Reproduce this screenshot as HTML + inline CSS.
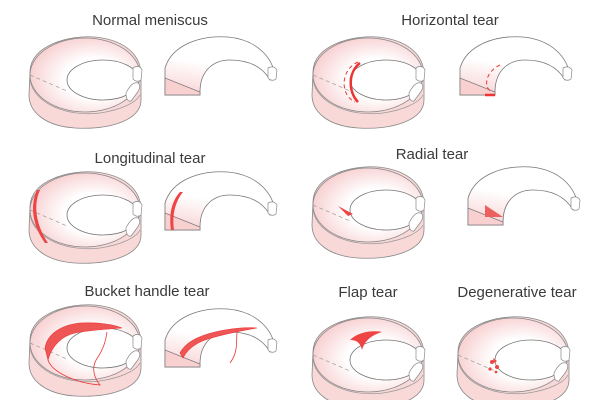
<!DOCTYPE html>
<html><head><style>
body{margin:0;background:#fff}
svg{display:block}
text{font-family:"Liberation Sans",sans-serif;font-size:15px;fill:#3a3a3a;text-anchor:middle}
</style></head><body>
<svg width="600" height="400" viewBox="0 0 600 400">
<defs>
<radialGradient id="g" cx="0.58" cy="0.55" r="0.6">
<stop offset="0.45" stop-color="#fff"/><stop offset="1" stop-color="#f8cfd0"/></radialGradient>
<linearGradient id="h" x1="0" y1="1" x2="0.3" y2="0">
<stop offset="0" stop-color="#f8cfd0"/><stop offset="0.6" stop-color="#fff"/></linearGradient>
<g id="full">
<path d="M30,72 C30,45 70,35 95,37 C125,40 141,55 141,75 L141,100 C141,120 110,130 75,128 C45,126 29,112 29,95 Z" fill="#f9d8d8" stroke="#888" stroke-width="0.8"/>
<path d="M30,80 C34,105 70,117 100,113 C120,110 136,103 140,95" fill="none" stroke="#999" stroke-width="0.7"/>
<ellipse cx="85" cy="75" rx="55" ry="37" fill="url(#g)" stroke="#888" stroke-width="0.8"/>
<ellipse cx="103" cy="80" rx="36" ry="20" fill="#fff" stroke="#777" stroke-width="0.8"/>
<path d="M30,75 L67,91" stroke="#999" stroke-width="0.7" stroke-dasharray="4,3"/>
<path d="M133,68 q6,-4 9,2 l-1,10 q-4,3 -8,-1 z" fill="#fff" stroke="#888" stroke-width="0.7"/>
<path d="M126,93 q6,-12 12,-10 q4,3 -1,10 l-6,8 q-5,1 -5,-8 z" fill="#fff" stroke="#888" stroke-width="0.7"/>
</g>
<g id="half">
<path d="M165,95 L165,68 C172,45 200,35 228,37 C258,40 272,58 275,75 L274,80 L270,80 C262,66 248,60 230,60 C212,60 200,72 200,92 L200,95 Z" fill="url(#h)" stroke="#777" stroke-width="0.8"/>
<path d="M165,78 L165,95 L200,95 L200,92 Z" fill="#f9d0d0" stroke="#777" stroke-width="0.7"/>
<path d="M268,68 q6,-3 9,2 l-1,9 q-4,3 -8,-1 z" fill="#fff" stroke="#888" stroke-width="0.7"/>
</g>
</defs>

<text x="150" y="25">Normal meniscus</text>
<text x="450" y="25">Horizontal tear</text>
<text x="150" y="163">Longitudinal tear</text>
<text x="432" y="159">Radial tear</text>
<text x="147" y="296">Bucket handle tear</text>
<text x="368" y="297">Flap tear</text>
<text x="517" y="297">Degenerative tear</text>

<use href="#full"/>
<use href="#half"/>

<use href="#full" transform="translate(283,0)"/>
<use href="#half" transform="translate(295,0)"/>
<path d="M358,62 C340,70 340,95 355,102" fill="none" stroke="#e33" stroke-width="1" stroke-dasharray="4,3"/>
<path d="M360,63 C348,72 348,92 358,102" fill="none" stroke="#e33" stroke-width="2.5"/>
<path d="M500,65 C485,72 483,88 492,92" fill="none" stroke="#e33" stroke-width="1" stroke-dasharray="4,3"/>
<path d="M495,95 L485,95" fill="none" stroke="#e33" stroke-width="2.5"/>

<use href="#full" transform="translate(0,135)"/>
<use href="#half" transform="translate(0,135)"/>
<path d="M40,190 C33,205 36,225 48,243 L45,243 C32,225 30,205 37,190 Z" fill="#ee4444"/>
<path d="M183,192 C175,202 172,215 174,230 L171,230 C169,215 171,202 180,192 Z" fill="#ee4444"/>

<use href="#full" transform="translate(283,130)"/>
<use href="#half" transform="translate(303,130)"/>
<path d="M338,206 L353,214 L348,216 Z" fill="#ee4444"/>
<path d="M485,205 L503,217 L485,217 Z" fill="#ee6060"/>

<use href="#full" transform="translate(0,268)"/>
<use href="#half" transform="translate(0,272)"/>
<path d="M45,348 C47,335 60,325 80,323 C100,322 115,325 122,328 C110,329 90,330 75,333 C62,336 52,345 48,360 Z" fill="#ee5555" stroke="#e33" stroke-width="0.6"/>
<path d="M48,360 C52,372 75,383 100,385 C92,375 92,365 98,357 C104,348 106,340 107,332" fill="none" stroke="#e33" stroke-width="0.8"/>
<path d="M180,353 C185,343 198,336 215,332 C232,328 248,327 257,328 C240,331 220,335 205,340 C194,344 187,350 183,358 Z" fill="#ee5555" stroke="#e33" stroke-width="0.6"/>
<path d="M237,332 C236,345 238,352 230,363" fill="none" stroke="#e33" stroke-width="0.8"/>

<use href="#full" transform="translate(283,280)"/>
<path d="M350,340 C358,332 372,330 382,332 C372,335 365,340 362,350 C360,342 356,340 350,340 Z" fill="#ee4444"/>

<use href="#full" transform="translate(428,280)"/>
<g fill="#ee4444"><circle cx="492" cy="362" r="2"/><circle cx="497" cy="367" r="2"/><circle cx="490" cy="369" r="1.6"/><circle cx="496" cy="372" r="1.4"/><path d="M493,358 l4,3 l-3,2 z"/></g>
</svg>
</body></html>
